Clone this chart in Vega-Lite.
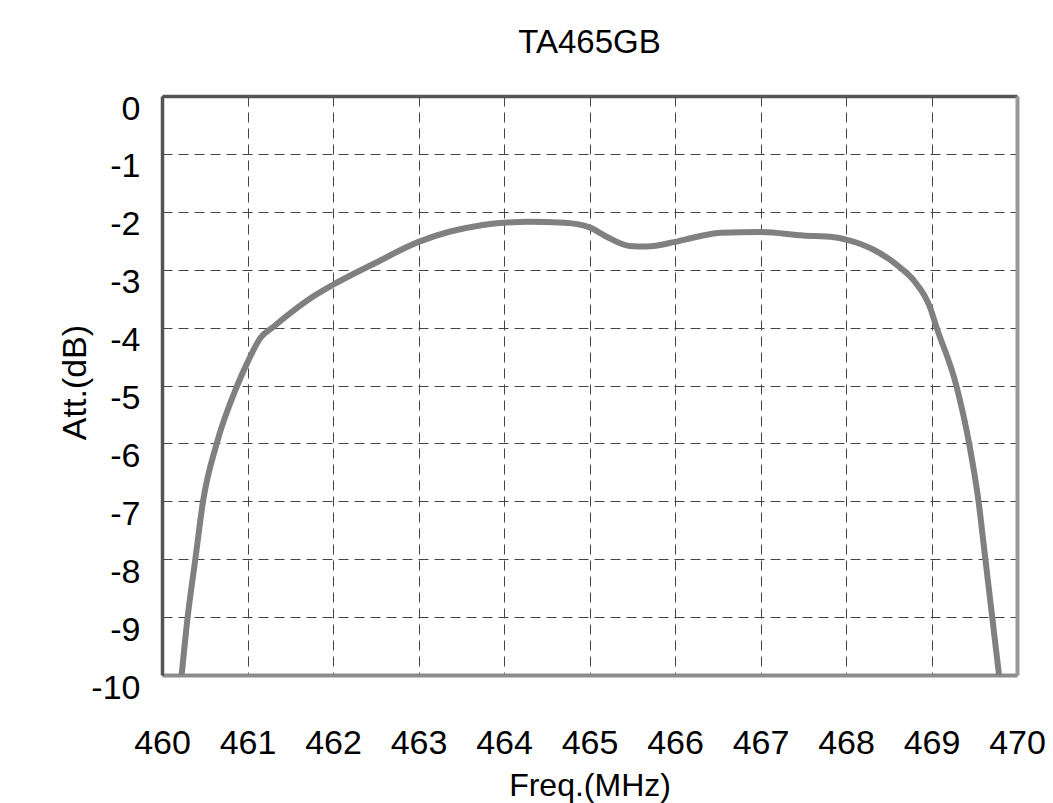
{
  "$schema": "https://vega.github.io/schema/vega-lite/v6.json",
  "width": 855,
  "height": 579,
  "autosize": {"type": "none"},
  "padding": {"left": 162, "top": 96, "right": 36, "bottom": 128},
  "background": "white",
  "title": {
    "text": "TA465GB",
    "font": "Liberation Sans",
    "fontSize": 33,
    "fontWeight": "normal",
    "color": "black",
    "anchor": "middle",
    "frame": "group",
    "baseline": "alphabetic",
    "offset": 6
  },
  "config": {
    "view": {"stroke": null},
    "axis": {
      "labelFont": "Liberation Sans",
      "titleFont": "Liberation Sans",
      "labelFontSize": 34,
      "titleFontSize": 34,
      "titleFontWeight": "normal",
      "labelColor": "black",
      "titleColor": "black",
      "tickSize": 0,
      "ticks": false,
      "gridColor": "#444444",
      "gridWidth": 1,
      "gridDash": [10, 6],
      "gridOpacity": 1
    }
  },
  "data": {
    "values": [
      {"freq": 460.23, "att": -10},
      {"freq": 460.30, "att": -9},
      {"freq": 460.39, "att": -8},
      {"freq": 460.48, "att": -7},
      {"freq": 460.64, "att": -6},
      {"freq": 460.88, "att": -5},
      {"freq": 461.0, "att": -4.6},
      {"freq": 461.15, "att": -4.18},
      {"freq": 461.3, "att": -3.99},
      {"freq": 461.5, "att": -3.75},
      {"freq": 461.75, "att": -3.48},
      {"freq": 462.0, "att": -3.26},
      {"freq": 462.5, "att": -2.88},
      {"freq": 463.0, "att": -2.52},
      {"freq": 463.37, "att": -2.34},
      {"freq": 463.7, "att": -2.24},
      {"freq": 464.0, "att": -2.19},
      {"freq": 464.28, "att": -2.17},
      {"freq": 464.71, "att": -2.19},
      {"freq": 465.0, "att": -2.27},
      {"freq": 465.2, "att": -2.43},
      {"freq": 465.47, "att": -2.59},
      {"freq": 465.67, "att": -2.6},
      {"freq": 466.0, "att": -2.52},
      {"freq": 466.26, "att": -2.43},
      {"freq": 466.54, "att": -2.36},
      {"freq": 467.0, "att": -2.35},
      {"freq": 467.5, "att": -2.41},
      {"freq": 467.86, "att": -2.44},
      {"freq": 468.0, "att": -2.48},
      {"freq": 468.33, "att": -2.66},
      {"freq": 468.64, "att": -2.97},
      {"freq": 468.79, "att": -3.18},
      {"freq": 468.98, "att": -3.64},
      {"freq": 469.06, "att": -4},
      {"freq": 469.29, "att": -5},
      {"freq": 469.44, "att": -6},
      {"freq": 469.55, "att": -7},
      {"freq": 469.63, "att": -8},
      {"freq": 469.71, "att": -9},
      {"freq": 469.79, "att": -10}
    ]
  },
  "layer": [
    {
      "mark": {"type": "line", "opacity": 0},
      "encoding": {
        "x": {
          "field": "freq",
          "type": "quantitative",
          "scale": {"domain": [460, 470], "nice": false, "zero": false},
          "axis": {
            "orient": "bottom",
            "title": "Freq.(MHz)",
            "titleFontSize": 32,
            "values": [460, 461, 462, 463, 464, 465, 466, 467, 468, 469, 470],
            "format": "d",
            "labelBaseline": "alphabetic",
            "labelPadding": 78,
            "labelFlush": false,
            "labelOverlap": false,
            "domainColor": "#8c8c8c",
            "domainWidth": 4,
            "grid": true,
            "titleBaseline": "alphabetic",
            "titleY": 120,
            "titleX": 427.5
          }
        },
        "y": {
          "field": "att",
          "type": "quantitative",
          "scale": {"domain": [-10, 0], "nice": false, "zero": false},
          "axis": {
            "orient": "left",
            "title": "Att.(dB)",
            "values": [-10, -9, -8, -7, -6, -5, -4, -3, -2, -1, 0],
            "labelExpr": "datum.value < 0 ? '-' + abs(datum.value) : '' + datum.value",
            "labelBaseline": "alphabetic",
            "labelOffset": 23,
            "labelPadding": 22,
            "labelFlush": false,
            "labelOverlap": false,
            "domainColor": "#555555",
            "domainWidth": 3.5,
            "grid": true,
            "titleAngle": -90,
            "titleBaseline": "alphabetic",
            "titleX": -77,
            "titleY": 286
          }
        }
      }
    },
    {
      "mark": {"type": "line", "color": "#808080", "strokeWidth": 6, "interpolate": "monotone"},
      "encoding": {
        "x": {
          "field": "freq",
          "type": "quantitative",
          "axis": {
            "orient": "top",
            "title": null,
            "labels": false,
            "grid": false,
            "domainColor": "#555555",
            "domainWidth": 3.5
          }
        },
        "y": {
          "field": "att",
          "type": "quantitative",
          "axis": {
            "orient": "right",
            "title": null,
            "labels": false,
            "grid": false,
            "domainColor": "#999999",
            "domainWidth": 4
          }
        }
      }
    }
  ]
}
